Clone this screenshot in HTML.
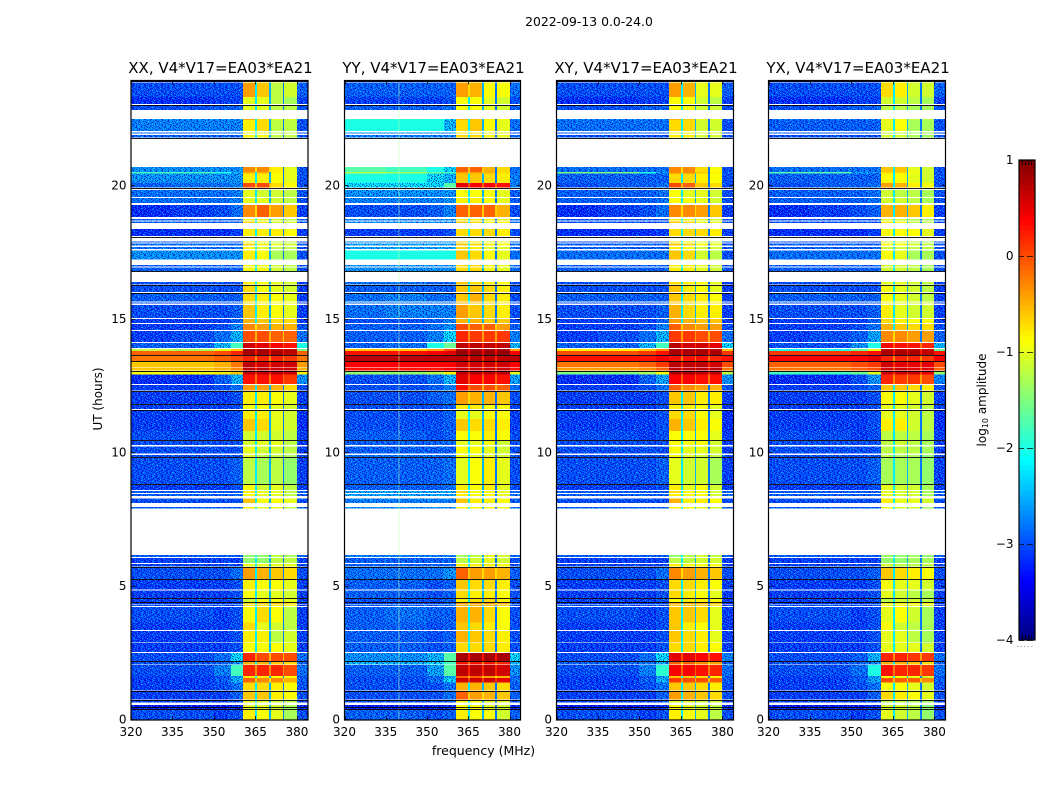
<!DOCTYPE html>
<html lang="en">
<head>
<meta charset="utf-8">
<title>2022-09-13 0.0-24.0</title>
<style>
html,body{margin:0;padding:0;background:#fff;}
svg{display:block;}
text{font-family:"DejaVu Sans","Liberation Sans",sans-serif;fill:#000;}
</style>
</head>
<body>
<svg id="chart" xmlns="http://www.w3.org/2000/svg" width="1050" height="800" viewBox="0 0 1050 800">
<defs>
<pattern id="speckle" patternUnits="userSpaceOnUse" width="29" height="17"></pattern>
</defs>
<text x="589" y="26" font-size="12.4" text-anchor="middle">2022-09-13 0.0-24.0</text>
<text x="483.5" y="755" font-size="12.5" text-anchor="middle">frequency (MHz)</text>
<text x="102" y="399" font-size="12" text-anchor="middle" transform="rotate(-90 102 399)">UT (hours)</text>
<g id="panels"></g>
<g id="colorbar"></g>
<text x="986" y="400" font-size="12" text-anchor="middle" transform="rotate(-90 986 400)">log<tspan font-size="8" dy="2">10</tspan><tspan dy="-2"> amplitude</tspan></text>
</svg>
<script>
// Time bands that contain data (UT hours); anything not listed is blank.
const rowStart = [0,.375,.66,.77,1.11,1.40,1.57,1.65,2.08,2.22,2.55,2.91,3.38,3.65,4.28,4.34,4.43,4.58,4.90,5.29,5.76,5.89,6.12,7.94,8.14,8.40,8.51,8.64,8.86,9.87,10.0,10.32,10.51,10.85,11.30,11.67,11.86,12.36,12.60,12.96,13.12,13.25,13.47,13.70,13.85,13.96,14.19,14.63,14.90,15.08,15.63,15.70,16.06,16.34,16.85,17.02,17.28,17.67,17.80,17.91,18.16,18.65,18.74,18.87,19.40,19.62,19.98,20.15,20.51,20.56,21.85,22.00,22.10,22.51,22.89,23.11,23.38,23.92];
const rowEnd = [.375,.56,.75,1.09,1.40,1.57,1.65,2.06,2.20,2.51,2.89,3.34,3.65,4.24,4.32,4.41,4.56,4.86,5.27,5.72,5.85,6.08,6.19,7.99,8.32,8.48,8.60,8.82,9.83,9.94,10.26,10.47,10.85,11.30,11.63,11.82,12.31,12.57,12.96,13.10,13.22,13.45,13.66,13.85,13.92,14.15,14.60,14.86,15.05,15.57,15.66,16.02,16.30,16.44,16.98,17.07,17.62,17.75,17.88,17.96,18.42,18.70,18.80,19.32,19.59,19.89,20.15,20.51,20.56,20.75,21.95,22.04,22.51,22.55,23.08,23.38,23.90,24.00];
// Frequency column edges (MHz) for the nine value columns.
const freqStart = [320,335,350,356,360.5,365.6,370.6,375.5,380];
const freqEnd = [335,350,356,360.5,365,370,374.8,380,384];
// Narrow channel gaps between sub-bands (MHz) and their typical level (log10 × 10).
const gapStart = [365,370,374.8];
const gapEnd = [365.6,370.6,375.5];
const gapLevels = [-21,-23,-26];
// Flagged (black) integrations, UT hours.
const flaggedHours = [.43,.5,.76,1.10,2.21,4.42,4.57,5.28,5.75,8.84,9.85,10.49,11.65,11.84,12.34,13.11,13.46,13.68,16.04,16.32,16.83,18.14,19.96,21.84,23.09,23.96];
const xTicks = [320,335,350,365,380];
const yTicks = [0,5,10,15,20];
const colorbarTicks = [-4,-3,-2,-1,0,1];
const colorbarLabels = ["\u22124","\u22123","\u22122","\u22121","0","1"];
const panelTitles = ["XX, V4*V17=EA03*EA21","YY, V4*V17=EA03*EA21","XY, V4*V17=EA03*EA21","YX, V4*V17=EA03*EA21"];
// Mean log10 amplitude × 10 for each time band (rows) and frequency column.
const xxValues = [
[-28,-28,-29,-28,-7,-8,-9,-12,-28],[-31,-31,-31,-30,-9,-9,-10,-12,-30],[-29,-29,-29,-28,-9,-9,-10,-11,-29],[-29,-29,-29,-27,-5,-5,-7,-8,-28],
[-29,-29,-28,-26,-6,-6,-7,-8,-28],[-29,-29,-27,-22,-1,-2,-2,-4,-27],[-29,-29,-28,-24,-7,-7,-8,-8,-28],[-28,-28,-25,-18,2,2,2,0,-26],
[-28,-28,-27,-24,-4,-4,-5,-6,-27],[-28,-28,-26,-21,2,0,0,0,-26],[-29,-29,-29,-28,-8,-8,-8,-9,-29],[-29,-29,-29,-28,-7,-7,-11,-10,-29],
[-29,-29,-29,-28,-6,-9,-10,-11,-29],[-28,-28,-29,-28,-8,-6,-8,-11,-29],[-28,-28,-28,-28,-7,-7,-7,-8,-29],[-29,-29,-29,-28,-6,-5,-5,-6,-29],
[-29,-29,-29,-28,-10,-8,-8,-9,-29],[-29,-29,-29,-28,-8,-9,-9,-10,-29],[-29,-29,-29,-28,-7,-8,-8,-9,-29],[-28,-28,-28,-26,-3,-4,-5,-6,-28],
[-29,-29,-29,-29,-9,-9,-9,-9,-29],[-29,-29,-29,-29,-13,-13,-11,-11,-29],[-27,-27,-27,-27,-14,-13,-11,-12,-27],[-27,-27,-27,-27,-7,-9,-9,-11,-27],
[-28,-28,-28,-28,-5,-8,-8,-9,-28],[-27,-27,-27,-27,-8,-9,-9,-11,-27],[-27,-27,-27,-27,-7,-9,-9,-11,-27],[-29,-29,-29,-28,-8,-10,-9,-11,-29],
[-28,-28,-28,-27,-11,-12,-11,-13,-29],[-28,-28,-28,-28,-9,-11,-11,-12,-28],[-28,-28,-28,-28,-9,-10,-10,-11,-29],[-28,-28,-28,-28,-10,-9,-9,-11,-29],
[-28,-28,-29,-28,-10,-10,-10,-11,-29],[-29,-29,-29,-28,-5,-6,-9,-10,-30],[-29,-29,-29,-28,-7,-7,-9,-10,-30],[-29,-29,-29,-28,-8,-8,-9,-10,-29],
[-29,-29,-29,-28,-7,-7,-8,-9,-29],[-29,-29,-28,-26,-3,-3,-4,-6,-28],[-30,-30,-27,-22,3,3,3,1,-24],[-9,-9,-8,-6,7,7,7,6,-8],
[-6,-6,-5,-3,7,7,6,6,-5],[-6,-6,-5,-2,7,6,6,6,-4],[-2,-2,-1,0,2,2,2,1,-2],[-1,-1,0,2,8,8,8,7,-1],
[-12,-13,-10,-6,8,8,7,7,-15],[-27,-27,-22,-18,6,5,4,3,-20],[-29,-28,-26,-22,0,0,-1,-1,-26],[-29,-29,-28,-25,-2,-3,-4,-4,-28],
[-29,-29,-29,-27,-4,-5,-6,-6,-29],[-28,-28,-28,-27,-5,-7,-8,-9,-29],[-28,-28,-28,-27,-6,-7,-8,-8,-29],[-27,-27,-27,-27,-6,-7,-8,-9,-29],
[-28,-28,-28,-28,-6,-8,-9,-10,-29],[-28,-28,-28,-28,-7,-8,-9,-10,-29],[-27,-27,-27,-27,-8,-8,-10,-11,-28],[-27,-27,-27,-27,-8,-8,-10,-11,-28],
[-24,-24,-24,-24,-7,-8,-12,-12,-28],[-26,-26,-26,-26,-8,-9,-11,-11,-28],[-26,-26,-26,-26,-6,-7,-9,-10,-28],[-27,-27,-27,-27,-8,-9,-11,-11,-28],
[-30,-30,-30,-29,-7,-7,-7,-8,-29],[-27,-27,-27,-27,-6,-7,-10,-10,-28],[-27,-27,-27,-27,-8,-9,-10,-11,-28],[-30,-29,-28,-26,-2,-1,-3,-5,-29],
[-26,-26,-26,-25,-9,-9,-10,-11,-28],[-26,-26,-26,-25,-9,-10,-10,-11,-28],[-27,-26,-26,-25,0,0,-6,-8,-28],[-24,-24,-24,-24,-7,-7,-8,-9,-28],
[-18,-18,-20,-22,-4,-4,-7,-9,-27],[-24,-24,-24,-24,-2,-2,-7,-9,-28],[-27,-27,-27,-27,-8,-8,-11,-11,-28],[-26,-26,-26,-26,-9,-9,-11,-11,-28],
[-25,-25,-25,-25,-7,-6,-11,-11,-28],[-24,-24,-24,-24,-4,-6,-10,-10,-27],[-28,-28,-27,-27,-9,-9,-11,-11,-28],[-30,-30,-29,-29,-9,-9,-11,-12,-29],
[-28,-28,-28,-28,-3,-5,-11,-10,-27],[-29,-29,-29,-29,-6,-6,-9,-9,-29]
];
const yyValues = [
[-27,-27,-28,-27,-6,-7,-7,-9,-27],[-31,-31,-31,-30,-7,-7,-8,-9,-30],[-28,-28,-28,-27,-7,-7,-8,-8,-28],[-28,-28,-28,-26,-1,-2,-3,-4,-27],
[-28,-28,-28,-26,-3,-3,-4,-5,-27],[-28,-28,-26,-21,6,6,6,5,-26],[-28,-28,-27,-23,-1,-1,-2,-3,-27],[-27,-27,-23,-17,7,7,7,6,-24],
[-22,-22,-21,-18,3,3,3,2,-22],[-24,-24,-22,-17,8,8,8,8,-21],[-27,-27,-28,-27,-5,-5,-5,-6,-28],[-27,-27,-28,-27,-3,-4,-5,-6,-28],
[-27,-27,-28,-27,-4,-5,-6,-7,-28],[-27,-26,-27,-27,-3,-3,-5,-7,-28],[-27,-27,-27,-27,-3,-3,-4,-5,-28],[-28,-28,-28,-27,-2,-2,-2,-3,-28],
[-28,-28,-28,-27,-6,-5,-5,-6,-28],[-27,-27,-28,-27,-5,-6,-6,-7,-28],[-27,-27,-28,-27,-4,-5,-5,-6,-28],[-26,-26,-26,-24,-1,-2,-2,-3,-27],
[-27,-27,-27,-27,-6,-6,-6,-7,-28],[-27,-27,-27,-27,-10,-9,-8,-9,-28],[-25,-25,-25,-25,-11,-10,-8,-9,-26],[-24,-24,-24,-24,-6,-7,-7,-8,-26],
[-25,-25,-25,-25,-4,-6,-6,-7,-27],[-23,-23,-23,-23,-6,-7,-7,-8,-26],[-23,-23,-23,-23,-5,-7,-7,-8,-26],[-27,-27,-27,-26,-6,-7,-6,-8,-28],
[-27,-27,-27,-26,-8,-7,-6,-8,-28],[-26,-26,-26,-26,-7,-8,-8,-9,-27],[-27,-27,-27,-27,-7,-7,-8,-9,-28],[-27,-27,-27,-26,-8,-8,-7,-9,-28],
[-27,-27,-28,-27,-7,-7,-6,-7,-28],[-28,-28,-28,-27,-4,-5,-5,-6,-29],[-28,-28,-28,-27,-8,-8,-7,-7,-29],[-28,-28,-28,-27,-6,-6,-7,-7,-29],
[-28,-28,-27,-26,-2,-3,-3,-4,-28],[-28,-28,-27,-25,3,0,0,-1,-26],[-28,-28,-26,-22,5,4,4,3,-23],[-14,-14,-12,-8,7,7,7,7,-10],
[3,3,3,4,6,6,6,6,3],[4,4,4,4,6,6,6,6,4],[7,7,7,7,7,7,7,7,7],[3,3,4,5,9,9,9,9,4],
[-6,-6,-4,0,8,8,8,8,-4],[-27,-26,-20,-16,7,7,7,7,-22],[-27,-27,-25,-21,2,1,1,1,-25],[-27,-27,-26,-24,0,-1,-1,-2,-27],
[-28,-28,-27,-25,-3,-3,-4,-4,-28],[-26,-25,-25,-25,-2,-4,-5,-6,-28],[-26,-26,-26,-26,-3,-4,-5,-6,-28],[-26,-25,-26,-26,-4,-3,-5,-6,-28],
[-27,-27,-27,-27,-4,-4,-5,-6,-28],[-26,-26,-27,-27,-4,-5,-6,-7,-28],[-24,-24,-24,-24,-5,-5,-7,-8,-26],[-24,-24,-24,-24,-5,-5,-7,-8,-26],
[-20,-20,-20,-20,-4,-5,-7,-8,-26],[-23,-23,-23,-23,-5,-6,-8,-8,-26],[-23,-23,-23,-23,-4,-5,-6,-7,-26],[-24,-24,-24,-24,-5,-6,-8,-8,-26],
[-29,-29,-29,-28,-5,-5,-5,-6,-28],[-24,-24,-24,-24,-4,-5,-7,-7,-26],[-25,-25,-25,-25,-6,-6,-7,-8,-26],[-28,-28,-27,-25,-1,-1,-1,-3,-28],
[-25,-25,-25,-24,-6,-6,-7,-8,-27],[-24,-24,-24,-24,-7,-7,-7,-8,-27],[-21,-21,-21,-17,5,4,4,3,-25],[-20,-20,-21,-22,-4,-4,-5,-6,-25],
[-12,-13,-16,-18,-2,-2,-3,-5,-26],[-17,-18,-20,-21,-1,-1,-3,-5,-26],[-25,-25,-25,-25,-5,-5,-7,-8,-27],[-24,-24,-24,-24,-6,-6,-8,-8,-27],
[-20,-20,-20,-22,-5,-4,-7,-8,-26],[-19,-19,-20,-21,-3,-4,-6,-7,-25],[-27,-27,-27,-26,-7,-7,-8,-9,-27],[-29,-29,-29,-28,-7,-7,-8,-9,-28],
[-27,-27,-27,-27,-2,-3,-7,-7,-26],[-28,-28,-28,-28,-4,-4,-6,-6,-28]
];
const xyValues = [
[-28,-28,-29,-28,-7,-8,-9,-11,-28],[-31,-31,-31,-30,-8,-9,-10,-11,-30],[-29,-29,-29,-28,-9,-9,-10,-10,-29],[-29,-29,-29,-27,-3,-4,-5,-6,-28],
[-29,-29,-28,-26,-5,-5,-6,-7,-28],[-29,-29,-27,-22,1,0,0,-1,-27],[-29,-29,-28,-24,-5,-5,-6,-7,-28],[-28,-28,-25,-19,4,4,3,2,-26],
[-27,-27,-26,-23,-1,-1,-2,-3,-27],[-28,-28,-26,-21,5,5,4,3,-25],[-29,-29,-29,-28,-6,-6,-7,-8,-29],[-29,-29,-29,-28,-5,-6,-7,-9,-29],
[-29,-29,-29,-28,-5,-7,-8,-9,-29],[-28,-28,-29,-28,-5,-5,-6,-9,-29],[-28,-28,-28,-28,-5,-5,-6,-7,-29],[-29,-29,-29,-28,-4,-4,-4,-5,-29],
[-29,-29,-29,-28,-8,-7,-7,-8,-29],[-29,-29,-29,-28,-6,-7,-8,-9,-29],[-29,-29,-29,-28,-6,-6,-7,-8,-29],[-28,-28,-28,-26,-2,-3,-4,-5,-28],
[-29,-29,-29,-29,-7,-8,-8,-8,-29],[-29,-29,-29,-29,-11,-11,-10,-10,-29],[-27,-27,-27,-27,-13,-11,-10,-11,-27],[-27,-27,-27,-27,-7,-8,-9,-10,-27],
[-28,-28,-28,-28,-4,-7,-7,-8,-28],[-27,-27,-27,-27,-7,-8,-8,-10,-27],[-27,-27,-27,-27,-6,-8,-8,-10,-27],[-29,-29,-29,-28,-7,-9,-8,-10,-29],
[-28,-28,-28,-27,-9,-10,-10,-12,-29],[-28,-28,-28,-28,-8,-9,-10,-11,-28],[-28,-28,-28,-28,-8,-9,-9,-10,-29],[-28,-28,-28,-28,-8,-8,-8,-10,-29],
[-28,-28,-29,-28,-8,-8,-8,-9,-29],[-29,-29,-29,-28,-4,-5,-7,-8,-30],[-29,-29,-29,-28,-6,-6,-8,-9,-30],[-29,-29,-29,-28,-7,-7,-8,-9,-29],
[-29,-29,-29,-28,-5,-5,-7,-7,-29],[-29,-29,-28,-26,-1,-2,-3,-4,-28],[-30,-30,-27,-23,4,4,3,3,-24],[-15,-15,-13,-9,8,8,7,7,-12],
[-4,-4,-3,-1,7,7,7,7,-2],[-2,-2,-1,1,7,7,7,6,0],[3,3,3,4,3,3,3,2,3],[0,0,1,3,8,8,8,8,1],
[-8,-8,-6,-3,8,8,8,7,-6],[-27,-27,-22,-18,7,6,6,5,-21],[-29,-28,-26,-22,1,1,0,0,-26],[-29,-29,-28,-25,-1,-2,-3,-3,-28],
[-29,-29,-29,-27,-3,-4,-5,-5,-29],[-28,-28,-28,-27,-4,-6,-7,-7,-29],[-28,-28,-28,-27,-5,-6,-7,-7,-29],[-27,-27,-27,-27,-5,-6,-7,-8,-29],
[-28,-28,-28,-28,-5,-7,-8,-9,-29],[-28,-28,-28,-28,-6,-7,-8,-9,-29],[-27,-27,-27,-27,-7,-7,-9,-10,-28],[-27,-27,-27,-27,-7,-7,-9,-10,-28],
[-26,-26,-26,-26,-5,-6,-10,-11,-28],[-27,-27,-27,-27,-7,-8,-10,-10,-28],[-27,-27,-27,-27,-5,-6,-8,-9,-28],[-28,-28,-28,-28,-7,-8,-10,-10,-28],
[-30,-30,-30,-29,-6,-6,-6,-7,-29],[-28,-28,-28,-28,-5,-6,-9,-9,-28],[-28,-28,-28,-28,-7,-8,-9,-10,-28],[-30,-29,-28,-26,-2,-2,-3,-5,-29],
[-27,-27,-27,-26,-8,-8,-9,-10,-28],[-27,-27,-27,-26,-8,-9,-9,-10,-28],[-28,-27,-27,-26,0,-1,-5,-6,-28],[-27,-27,-27,-27,-6,-6,-7,-8,-28],
[-15,-15,-20,-23,-2,-2,-5,-7,-27],[-26,-26,-26,-26,-2,-2,-6,-8,-28],[-28,-28,-28,-28,-7,-7,-10,-10,-28],[-27,-27,-27,-27,-8,-8,-10,-10,-28],
[-26,-26,-26,-26,-6,-6,-10,-10,-28],[-25,-25,-25,-25,-4,-5,-9,-9,-27],[-28,-28,-27,-27,-8,-8,-10,-10,-28],[-30,-30,-29,-29,-8,-8,-10,-11,-29],
[-28,-28,-28,-28,-3,-4,-9,-9,-27],[-29,-29,-29,-29,-5,-6,-8,-8,-29]
];
const yxValues = [
[-28,-28,-29,-28,-9,-10,-11,-13,-28],[-31,-31,-31,-30,-10,-10,-11,-13,-30],[-29,-29,-29,-28,-11,-11,-12,-12,-29],[-29,-29,-29,-27,-6,-7,-8,-9,-28],
[-29,-29,-28,-26,-8,-8,-9,-10,-28],[-29,-29,-27,-23,0,-1,-1,-2,-27],[-29,-29,-28,-24,-8,-8,-9,-10,-28],[-28,-28,-26,-20,3,2,2,1,-26],
[-28,-28,-27,-25,-4,-4,-5,-6,-27],[-28,-28,-27,-22,2,2,1,1,-26],[-29,-29,-29,-28,-9,-9,-9,-10,-29],[-29,-29,-29,-28,-9,-9,-11,-12,-29],
[-29,-29,-29,-28,-8,-10,-11,-12,-29],[-28,-28,-29,-28,-9,-8,-10,-12,-29],[-28,-28,-28,-28,-8,-8,-9,-10,-29],[-29,-29,-29,-28,-7,-7,-7,-8,-29],
[-29,-29,-29,-28,-11,-10,-10,-11,-29],[-29,-29,-29,-28,-9,-10,-11,-12,-29],[-29,-29,-29,-28,-8,-9,-9,-10,-29],[-28,-28,-28,-27,-5,-6,-7,-8,-28],
[-29,-29,-29,-29,-10,-11,-11,-11,-29],[-29,-29,-29,-29,-13,-13,-12,-12,-29],[-27,-27,-27,-27,-14,-13,-12,-13,-27],[-27,-27,-27,-27,-9,-10,-10,-12,-27],
[-28,-28,-28,-28,-7,-9,-9,-10,-28],[-27,-27,-27,-27,-9,-10,-10,-12,-27],[-27,-27,-27,-27,-9,-10,-10,-12,-27],[-29,-29,-29,-28,-9,-10,-10,-12,-29],
[-28,-28,-28,-27,-12,-12,-12,-13,-29],[-28,-28,-28,-28,-11,-12,-12,-13,-28],[-28,-28,-28,-28,-11,-11,-11,-12,-29],[-28,-28,-28,-28,-11,-10,-11,-12,-29],
[-28,-28,-29,-28,-11,-11,-11,-12,-29],[-29,-29,-29,-28,-7,-7,-10,-11,-30],[-29,-29,-29,-28,-9,-9,-10,-11,-30],[-29,-29,-29,-28,-9,-9,-10,-11,-29],
[-29,-29,-29,-28,-8,-8,-9,-10,-29],[-29,-29,-28,-27,-5,-5,-6,-7,-28],[-30,-30,-28,-24,2,1,1,0,-25],[-18,-18,-16,-10,6,6,6,5,-14],
[-2,-2,-1,0,6,6,5,5,-1],[-1,-1,0,1,6,5,5,5,0],[4,4,4,5,2,2,2,1,4],[1,1,2,3,8,8,8,7,3],
[-20,-20,-16,-10,7,7,7,6,-16],[-28,-28,-24,-20,4,3,3,2,-22],[-29,-28,-27,-23,-2,-2,-3,-3,-27],[-29,-29,-28,-26,-4,-5,-6,-6,-28],
[-29,-29,-29,-27,-6,-7,-8,-8,-29],[-28,-28,-28,-27,-7,-9,-10,-10,-29],[-28,-28,-28,-27,-8,-9,-10,-10,-29],[-27,-27,-27,-27,-8,-9,-10,-11,-29],
[-28,-28,-28,-28,-8,-9,-10,-11,-29],[-28,-28,-28,-28,-9,-9,-10,-11,-29],[-27,-27,-27,-27,-10,-10,-11,-12,-28],[-27,-27,-27,-27,-10,-10,-11,-12,-28],
[-26,-26,-26,-26,-8,-9,-12,-12,-28],[-27,-27,-27,-27,-10,-10,-11,-11,-28],[-27,-27,-27,-27,-8,-8,-10,-11,-28],[-28,-28,-28,-28,-10,-10,-11,-12,-28],
[-30,-30,-30,-29,-8,-8,-8,-9,-29],[-28,-28,-28,-28,-7,-8,-11,-11,-28],[-28,-28,-28,-28,-9,-10,-11,-12,-28],[-30,-29,-28,-27,-4,-4,-5,-7,-29],
[-27,-27,-27,-26,-10,-10,-11,-12,-28],[-27,-27,-27,-26,-10,-11,-11,-12,-28],[-28,-27,-27,-26,-3,-4,-7,-8,-28],[-27,-27,-27,-27,-8,-8,-9,-10,-28],
[-17,-17,-22,-24,-6,-6,-8,-10,-27],[-26,-26,-26,-26,-5,-5,-9,-10,-28],[-28,-28,-28,-28,-10,-10,-12,-12,-28],[-27,-27,-27,-27,-11,-11,-12,-12,-28],
[-27,-27,-27,-27,-9,-8,-12,-12,-28],[-26,-26,-26,-26,-7,-8,-11,-11,-27],[-28,-28,-27,-27,-11,-11,-12,-12,-28],[-30,-30,-29,-29,-10,-10,-11,-12,-29],
[-28,-28,-28,-28,-6,-7,-10,-10,-27],[-29,-29,-29,-29,-8,-8,-10,-10,-29]
];
const panelValues = [xxValues,yyValues,xyValues,yxValues];
// Per-panel correction of the mid-level band colours (log10 × 10).
const panelBandBias = [-1,-2,-1,-1];
// Stray interference channel seen only in YY: MHz, from UT, to UT.
const yyStripeFreq = 339.8;
const yyStripeFrom = 0;
const yyStripeTo = 23.9;
// Repeating receiver-noise grain: d = darker, c = lighter, l = brightest pixel.
const speckleTile = [
"d..c.dd.l..d.c..dd.c...d.l.cd",
".cd..d.c..dd...c.d..dc.d..c..",
"d..l.c..d.c.dd..d.c...dd.c.d.",
".d.c..dd..c...dl..dd.c..d...c",
"c..d.d..c.d.d.c...c.d.d..lc.d",
"..dd.c.l..dc..d.dd...c.d.d..c",
"d.c...d.dc..l.c..d.cd..c..d.d",
".d..cd..c..d.d.c.d..d.l..dc..",
"c.d.d..d.cd...d..c.dd..c.d..d",
"..c..dl.d...c.dd.c...d.d..c.d",
"dd..c...c.d.d..c.dl.c..d.d...",
".c.d.d.dc..d..c..d...dd.c..dc",
"d..c..d...dlc.d.d.c.d..c..d..",
".d.dc.c.d...d..c..d.c.d..d.lc",
"c...d..dc.d.c.dd..c..d.c.d...",
"..d.c.d..l.d..c.d.dc...d..cd.",
"dc..d..c.d..dc...d..dc.c.d..d"
];

const SVG_NS = "http://www.w3.org/2000/svg";
const panelLeft = [131,344.5,556.5,768.5];
const panelWidth = [177,176,177,177];
const axisTop = 80.5, axisBottom = 720;
const zeroPixel = 719.5, pixelsPerHour = 26.7;
const FREQ_MIN = 320, FREQ_MAX = 384;

function xScale(p, f){ return panelLeft[p] + (f-FREQ_MIN)/(FREQ_MAX-FREQ_MIN)*panelWidth[p]; }
function yScale(h){ return zeroPixel - h*pixelsPerHour; }
// Row times were read against a slightly different clock origin.
function rowY(h){ return Math.max(axisTop, Math.min(axisBottom, yScale(h*0.99813-0.0187))); }
function clamp01(v){ return Math.max(0,Math.min(1,v)); }
function jet(level){
  const t = clamp01((level+4)/5);
  const r = clamp01(Math.min(4*t-1.5,-4*t+4.5));
  const g = clamp01(Math.min(4*t-0.5,-4*t+3.5));
  const b = clamp01(Math.min(4*t+0.5,-4*t+2.5));
  return "rgb("+Math.round(r*255)+","+Math.round(g*255)+","+Math.round(b*255)+")";
}
function make(tag, attrs, parent){
  const el = document.createElementNS(SVG_NS, tag);
  for (const k in attrs) el.setAttribute(k, attrs[k]);
  parent.appendChild(el);
  return el;
}
// Build the noise grain tile.
const speckleEl = document.getElementById("speckle");
const speckleFill = {d:["#0000b8","0.6"], c:["#00a0ff","0.7"], l:["#00e8ff","0.7"]};
speckleTile.forEach(function(line,y){
  for (let x = 0; x < line.length; x++) {
    const style = speckleFill[line[x]];
    if (style) make("rect", {x:x, y:y, width:1, height:1, fill:style[0], "fill-opacity":style[1]}, speckleEl);
  }
});
function displayTenths(v){ return v < -20 ? v - Math.min(2, -20 - v) : v; }
function drawCell(g, p, f0, f1, h0, h1, tenths, grainy){
  const x0 = Math.round(xScale(p,f0)), x1 = Math.round(xScale(p,f1));
  const y0 = rowY(h1), y1 = rowY(h0);
  const attrs = {x:x0, y:y0.toFixed(2), width:Math.max(1,x1-x0), height:Math.max(0,y1-y0).toFixed(2), fill:jet(displayTenths(tenths)/10), "shape-rendering":"crispEdges"};
  const cell = make("rect", attrs, g);
  
  
  if (grainy && tenths < -20) {
    const attrs2 = Object.assign({}, attrs, {fill:"url(#speckle)"});
    const noise = make("rect", attrs2, g);
    
    
  }
}
const panelsGroup = document.getElementById("panels");
panelTitles.forEach(function(title,p){
  const g = make("g", {}, panelsGroup);
  
  
  const values = panelValues[p];
  rowStart.forEach(function(h0,r){
    const h1 = rowEnd[r], row = values[r];
    if (!row) return;
    row.forEach(function(v,c){
      const isBand = c >= 4 && c <= 7;
      const level = (isBand && v > -14 && v < -1) ? v + panelBandBias[p] : v;
      drawCell(g, p, freqStart[c], freqEnd[c], h0, h1, level, true);
    });
    gapStart.forEach(function(f0,i){
      const left = row[4+i];
      const gapLevel = left >= -2 ? left-5 : gapLevels[i];
      drawCell(g, p, f0, gapEnd[i], h0, h1, gapLevel, false);
    });
  });
  if (p === 1) {
    const stripe = make("line", {x1:xScale(p,yyStripeFreq), x2:xScale(p,yyStripeFreq), y1:rowY(yyStripeFrom), y2:rowY(yyStripeTo), stroke:"#b8ffb0", "stroke-opacity":"0.55", "stroke-width":"1"}, g);
    
    
  }
  const L = panelLeft[p], R = L+panelWidth[p];
  flaggedHours.forEach(function(h){
    const y = Math.round(rowY(h))+0.5;
    const flagged = make("line", {x1:L, x2:R, y1:y, y2:y, stroke:"#000", "stroke-width":"1", "stroke-opacity":"0.9"}, g);
    
    
  });
  xTicks.forEach(function(f){
    const x = Math.round(xScale(p,f))+0.5;
    const t1 = make("line", {x1:x,x2:x,y1:axisBottom,y2:axisBottom-4,stroke:"#000","stroke-width":"0.8"}, g);
    
    
    const t2 = make("line", {x1:x,x2:x,y1:axisTop,y2:axisTop+4,stroke:"#000","stroke-width":"0.8"}, g);
    
    
    const label = make("text", {x:xScale(p,f),y:736,"font-size":12,"text-anchor":"middle"}, g);
    
    
    label.textContent = f;
  });
  yTicks.forEach(function(h){
    const y = Math.floor(yScale(h))+0.5;
    const t1 = make("line", {x1:L,x2:L+4,y1:y,y2:y,stroke:"#000","stroke-width":"0.8"}, g);
    
    
    const t2 = make("line", {x1:R,x2:R-4,y1:y,y2:y,stroke:"#000","stroke-width":"0.8"}, g);
    
    
    const label = make("text", {x:L-4.5,y:yScale(h)+4,"font-size":12,"text-anchor":"end"}, g);
    
    
    label.textContent = h;
  });
  const frame = make("rect", {x:L,y:axisTop,width:panelWidth[p],height:axisBottom-axisTop,fill:"none",stroke:"#000","stroke-width":"1.2"}, g);
  
  
  const titleEl = make("text", {x:L+panelWidth[p]/2+1,y:73,"font-size":15,"text-anchor":"middle"}, g);
  
  
  titleEl.textContent = title;
});

// Colorbar
const cb = document.getElementById("colorbar");
const cbLeft = 1019, cbRight = 1035, cbTop = 160, cbBottom = 640;
function cbY(v){ return cbBottom - (v+4)/5*(cbBottom-cbTop); }
for (let i = 0; i < 96; i++) {
  const v0 = -4 + i*5/96, v1 = -4 + (i+1)*5/96;
  const band = make("rect", {x:cbLeft,y:cbY(v1),width:cbRight-cbLeft,height:cbY(v0)-cbY(v1)+0.4,fill:jet((v0+v1)/2),"shape-rendering":"crispEdges"}, cb);
  
  
}
colorbarTicks.forEach(function(v,i){
  const y = Math.round(cbY(v));
  const dash = make("line", {x1:cbLeft,x2:cbRight,y1:y+0.5,y2:y+0.5,stroke:"#000","stroke-width":"0.8","stroke-dasharray":"5 3 6"}, cb);
  
  
  const label = make("text", {x:1013.5,y:cbY(v)+4,"font-size":12,"text-anchor":"end"}, cb);
  
  
  label.textContent = colorbarLabels[i];
});
[1022.5,1025.5,1028.5,1031.5].forEach(function(x){
  [[161,165],[635,639]].forEach(function(span){
    const minor = make("line", {x1:x,x2:x,y1:span[0],y2:span[1],stroke:"#000","stroke-width":"0.8"}, cb);
    
    
  });
});
const cbFrame = make("rect", {x:cbLeft,y:cbTop,width:cbRight-cbLeft,height:cbBottom-cbTop,fill:"none",stroke:"#000","stroke-width":"1.2"}, cb);


const cbDots = make("line", {x1:1017,x2:1035,y1:646.5,y2:646.5,stroke:"#888","stroke-width":"1","stroke-dasharray":"1 2.6"}, cb);


</script>
</body>
</html>
